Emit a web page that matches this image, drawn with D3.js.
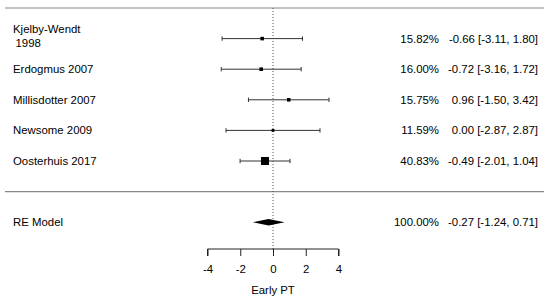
<!DOCTYPE html>
<meta charset="utf-8">
<style>
body {
  margin: 0;
  overflow: hidden;
  background: #fff;
}
text {
  font-family: "Liberation Sans", Arial, sans-serif;
  font-size: 11.4px;
  fill: #000;
}
</style>
<svg id="svg" width="550" height="303"></svg>
<script src="https://d3js.org/d3.v7.min.js"></script>
<script>

// study data
var studies = [["Kjelby-Wendt", "1998"], ["Erdogmus 2007"], ["Millisdotter 2007"], ["Newsome 2009"], ["Oosterhuis 2017"]];
var estimates = [-0.66, -0.72, 0.96, 0.00, -0.49];
var lowers = [-3.11, -3.16, -1.50, -2.87, -2.01];
var uppers = [1.80, 1.72, 3.42, 2.87, 1.04];
var weights = [15.82, 16.00, 15.75, 11.59, 40.83];

var summaryLabel = "RE Model";
var summaryEst = -0.27, summaryLower = -1.24, summaryUpper = 0.71, summaryWeight = 100.00;

var xTicks = [-4, -2, 0, 2, 4];
var xLabel = "Early PT";

var svg = d3.select("svg");
var k = studies.length;

var x = d3.scaleLinear().domain([-4, 4]).range([207.5, 338.5]);
// rows: k..1 for studies, 0 = separator, -1 = summary
var y = d3.scaleLinear().domain([0, 1]).range([191.6, 161]);
var size = d3.scaleLinear().domain([d3.min(weights), d3.max(weights)]).range([2.8, 8]);

var f2 = d3.format(".2f");
var fmt = function(v) { return f2(v).replace("−", "-"); };

var rows = studies.map(function(s, i) {
  return {label: s, est: estimates[i], lo: lowers[i], hi: uppers[i], w: weights[i], row: k - i};
});

// separator lines
svg.selectAll("line.sep")
  .data([k + 1, 0])
  .enter().append("line")
    .attr("class", "sep")
    .attr("x1", 5).attr("x2", 544)
    .attr("y1", function(d) { return y(d); })
    .attr("y2", function(d) { return y(d); })
    .attr("stroke", "#888")
    .attr("stroke-width", 1.2);

var axisY = 249;

// reference line at 0
svg.append("line")
  .attr("x1", x(0)).attr("x2", x(0))
  .attr("y1", y(k + 1)).attr("y2", axisY)
  .attr("stroke", "#555")
  .attr("stroke-dasharray", "1,2");

var g = svg.append("g");
var r = g.selectAll("g.row").data(rows).enter().append("g").attr("class", "row");

r.append("line")
  .attr("x1", function(d) { return x(d.lo); })
  .attr("x2", function(d) { return x(d.hi); })
  .attr("y1", function(d) { return y(d.row); })
  .attr("y2", function(d) { return y(d.row); })
  .attr("stroke", "#333");

["lo", "hi"].forEach(function(key) {
  r.append("line")
    .attr("x1", function(d) { return x(d[key]); })
    .attr("x2", function(d) { return x(d[key]); })
    .attr("y1", function(d) { return y(d.row) - 2.2; })
    .attr("y2", function(d) { return y(d.row) + 2.2; })
    .attr("stroke", "#333");
});

r.append("rect")
  .attr("x", function(d) { return x(d.est) - size(d.w) / 2; })
  .attr("y", function(d) { return y(d.row) - size(d.w) / 2; })
  .attr("width", function(d) { return size(d.w); })
  .attr("height", function(d) { return size(d.w); })
  .attr("fill", "#000");

// study labels (multi-line labels sit a little above the row)
r.append("text")
  .attr("x", 13)
  .attr("y", function(d) { return y(d.row) + 4 - (d.label.length - 1) * 9.5; })
  .each(function(d) {
    var t = d3.select(this);
    d.label.forEach(function(line, j) {
      t.append("tspan")
        .attr("x", j === 0 ? 13 : 15.5)
        .attr("dy", j === 0 ? 0 : 14)
        .text(line);
    });
  });

r.append("text")
  .attr("x", 439)
  .attr("y", function(d) { return y(d.row) + 4; })
  .attr("text-anchor", "end")
  .text(function(d) { return fmt(d.w) + "%"; });

r.append("text")
  .attr("x", 538)
  .attr("y", function(d) { return y(d.row) + 4; })
  .attr("text-anchor", "end")
  .text(function(d) { return fmt(d.est) + " [" + fmt(d.lo) + ", " + fmt(d.hi) + "]"; });

// summary diamond
var sy = y(-1);
svg.append("path")
  .attr("d", "M" + x(summaryLower) + "," + sy +
             "L" + x(summaryEst) + "," + (sy - 3.2) +
             "L" + x(summaryUpper) + "," + sy +
             "L" + x(summaryEst) + "," + (sy + 3.2) + "Z")
  .attr("fill", "#000");

svg.append("text").attr("x", 13).attr("y", sy + 4).text(summaryLabel);
svg.append("text").attr("x", 439).attr("y", sy + 4).attr("text-anchor", "end")
  .text(fmt(summaryWeight) + "%");
svg.append("text").attr("x", 538).attr("y", sy + 4).attr("text-anchor", "end")
  .text(fmt(summaryEst) + " [" + fmt(summaryLower) + ", " + fmt(summaryUpper) + "]");

// x axis
var axis = svg.append("g")
  .attr("transform", "translate(0," + axisY + ")")
  .call(d3.axisBottom(x).tickValues(xTicks).tickSize(7).tickPadding(9)
        .tickFormat(function(d) { return String(d); }));
axis.select(".domain").attr("d", "M" + x(-4) + ",7V0H" + x(4) + "V7").attr("stroke", "#222");
axis.selectAll(".tick line").attr("stroke", "#222");
axis.selectAll(".tick text")
  .style("font-family", "'Liberation Sans', Arial, sans-serif")
  .style("font-size", "11.4px")
  .attr("fill", "#000");

svg.append("text")
  .attr("x", x(0))
  .attr("y", 294)
  .attr("text-anchor", "middle")
  .text(xLabel);

</script>
